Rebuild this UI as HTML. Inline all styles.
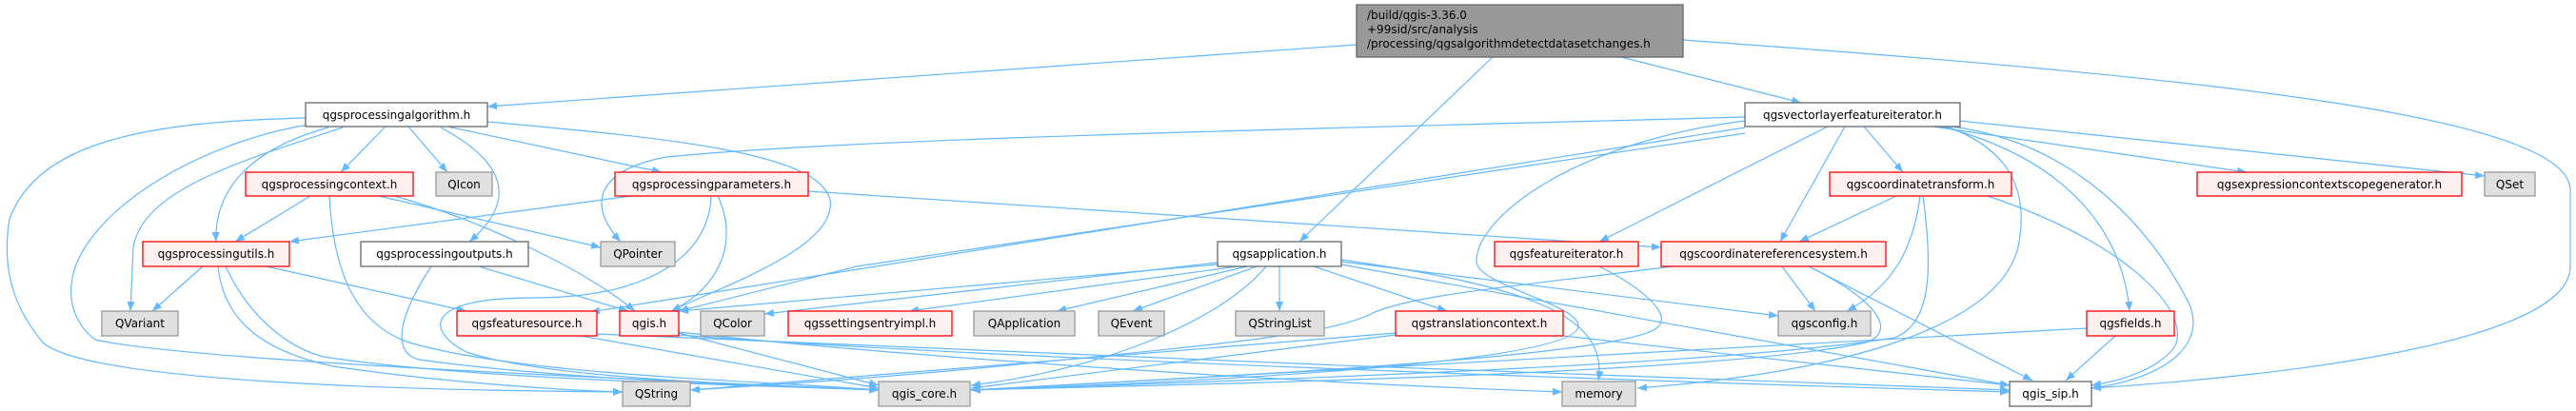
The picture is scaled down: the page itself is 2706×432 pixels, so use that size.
<!DOCTYPE html>
<html><head><meta charset="utf-8"><style>
html,body{margin:0;padding:0;background:#fff;}
svg{display:block;}
text{font-family:"DejaVu Sans","Liberation Sans",sans-serif;font-size:12px;fill:#000;}
.e{fill:none;stroke:#63b8ff;stroke-width:1.2;}
.w{fill:#fff;stroke:#666;stroke-width:1.3;}
.r{fill:#fff0f0;stroke:#ff0000;stroke-width:1.3;}
.g{fill:#e0e0e0;stroke:#999;stroke-width:1.3;}
</style></head><body>
<svg width="2706" height="432" viewBox="0 0 2706 432" xmlns="http://www.w3.org/2000/svg">
<defs><marker id="a" markerWidth="11" markerHeight="8" refX="10" refY="4" orient="auto" markerUnits="userSpaceOnUse"><path d="M0,0 L10,4 L0,8 z" fill="#63b8ff"/></marker></defs>
<g marker-end="url(#a)">
<!-- root -->
<path class="e" d="M1425,47 L512,112"/>
<path class="e" d="M1568,60 L1365,254"/>
<path class="e" d="M1703,60 L1892,108"/>
<path class="e" d="M1768,42 C2300,80 2700,120 2700,200 L2700,280 C2700,360 2400,395 2197,408"/>
<!-- processingalgorithm -->
<path class="e" d="M321,124 C150,128 40,150 10,230 C0,290 20,330 45,360 C90,400 400,410 654,412"/>
<path class="e" d="M330,130 C200,150 80,230 75,300 C72,330 90,350 100,357 C200,380 700,400 923,410"/>
<path class="e" d="M360,134 C250,170 150,200 140,260 L137,327"/>
<path class="e" d="M345,134 C250,160 225,210 227,254"/>
<path class="e" d="M405,133 L358,181"/>
<path class="e" d="M429,133 L470,181"/>
<path class="e" d="M463,134 C530,170 545,210 493,254"/>
<path class="e" d="M470,133 L695,181"/>
<path class="e" d="M512,128 C700,145 860,160 872,210 C880,260 760,300 705,327"/>
<!-- processingcontext -->
<path class="e" d="M326,206 L247,254"/>
<path class="e" d="M346,206 C350,280 370,340 430,360 C550,395 800,400 923,410"/>
<path class="e" d="M398,206 L631,260"/>
<path class="e" d="M414,206 C500,230 610,280 667,327"/>
<!-- processingparameters -->
<path class="e" d="M663,206 L304,254"/>
<path class="e" d="M754,206 C775,250 760,300 705,327"/>
<path class="e" d="M747,206 C745,270 680,313 560,313 C440,313 450,350 490,370 C580,400 820,405 923,410"/>
<path class="e" d="M849,201 L1745,260"/>
<!-- processingutils -->
<path class="e" d="M213,280 L160,327"/>
<path class="e" d="M280,280 L490,327"/>
<path class="e" d="M229,280 C235,340 280,370 350,385 C450,400 580,410 654,412"/>
<path class="e" d="M237,280 C260,330 300,365 340,375 C500,400 800,405 923,410"/>
<!-- processingoutputs -->
<path class="e" d="M503,280 L660,327"/>
<path class="e" d="M453,280 C420,330 410,370 440,378 C600,400 800,405 923,410"/>
<!-- vectorlayerfeatureiterator -->
<path class="e" d="M1833,123 C1400,135 900,145 700,165 C620,180 620,220 652,254"/>
<path class="e" d="M1833,134 L620,328"/>
<path class="e" d="M1833,140 L900,280 L713,327"/>
<path class="e" d="M1833,127 C1650,150 1550,230 1551,275 C1552,300 1660,320 1658,343 C1655,380 1300,400 1020,410"/>
<path class="e" d="M1920,133 L1680,254"/>
<path class="e" d="M1938,133 L1870,254"/>
<path class="e" d="M1958,133 L1999,181"/>
<path class="e" d="M2030,133 L2360,181"/>
<path class="e" d="M2059,127 L2610,185"/>
<path class="e" d="M2050,133 C2180,150 2260,240 2300,320 C2320,370 2260,400 2197,408"/>
<path class="e" d="M2040,133 C2180,170 2230,250 2237,327"/>
<path class="e" d="M2045,133 C2120,160 2130,210 2120,260 C2100,340 1950,390 1720,408"/>
<!-- coordinatetransform -->
<path class="e" d="M1992,206 L1890,254"/>
<path class="e" d="M2017,206 C2010,260 1990,300 1940,327"/>
<path class="e" d="M2088,206 C2250,260 2310,340 2280,370 C2260,390 2230,400 2197,405"/>
<path class="e" d="M2020,206 C2030,280 2030,340 1990,355 C1800,385 1300,400 1020,410"/>
<!-- crs -->
<path class="e" d="M1872,280 L1907,327"/>
<path class="e" d="M1900,280 L2135,400"/>
<path class="e" d="M1900,280 C1980,320 1990,350 1960,360 C1800,395 1200,405 1020,410"/>
<path class="e" d="M1757,280 C1600,300 1480,310 1440,330 C1400,350 1300,360 1100,380 C900,400 800,405 725,410"/>
<!-- application -->
<path class="e" d="M1279,276 L803,330"/>
<path class="e" d="M1279,278 L713,327"/>
<path class="e" d="M1300,280 L955,327"/>
<path class="e" d="M1310,280 L1110,327"/>
<path class="e" d="M1320,280 L1190,327"/>
<path class="e" d="M1344,280 L1344,327"/>
<path class="e" d="M1380,280 L1520,327"/>
<path class="e" d="M1409,275 L1868,332"/>
<path class="e" d="M1409,278 L2111,405"/>
<path class="e" d="M1409,273 C1600,300 1690,330 1679,400"/>
<path class="e" d="M1330,280 C1280,340 1150,390 1020,405"/>
<!-- translationcontext -->
<path class="e" d="M1466,352 L1020,408"/>
<path class="e" d="M1466,350 L725,410"/>
<path class="e" d="M1642,353 L2111,405"/>
<!-- fields -->
<path class="e" d="M2192,345 L1020,410"/>
<path class="e" d="M2222,353 L2170,400"/>
<!-- featuresource / qgis.h -->
<path class="e" d="M610,353 L923,408"/>
<path class="e" d="M627,351 C1000,370 1700,395 2111,410"/>
<path class="e" d="M713,350 L923,405"/>
<path class="e" d="M713,352 C1000,375 1700,400 2111,412"/>
<path class="e" d="M713,349 C900,370 1300,400 1641,412"/>
<!-- featureiterator -->
<path class="e" d="M1680,280 C1720,300 1760,330 1740,345 C1700,375 1300,395 1020,410"/>
</g>
<!-- nodes -->
<rect x="1425" y="5" width="343" height="55" fill="#999" stroke="#666" stroke-width="1.3"/>
<text x="1436" y="20">/build/qgis-3.36.0</text>
<text x="1436" y="35">+99sid/src/analysis</text>
<text x="1436" y="50">/processing/qgsalgorithmdetectdatasetchanges.h</text>

<rect class="w" x="321" y="108" width="191" height="25"/><text x="416.5" y="125" text-anchor="middle">qgsprocessingalgorithm.h</text>
<rect class="w" x="1833" y="108" width="226" height="25"/><text x="1946" y="125" text-anchor="middle">qgsvectorlayerfeatureiterator.h</text>

<rect class="r" x="258" y="181" width="176" height="25"/><text x="346" y="198" text-anchor="middle">qgsprocessingcontext.h</text>
<rect class="g" x="458" y="181" width="59" height="25"/><text x="487.5" y="198" text-anchor="middle">QIcon</text>
<rect class="r" x="646" y="181" width="203" height="25"/><text x="747.5" y="198" text-anchor="middle">qgsprocessingparameters.h</text>
<rect class="r" x="1922" y="181" width="191" height="25"/><text x="2017.5" y="198" text-anchor="middle">qgscoordinatetransform.h</text>
<rect class="r" x="2308" y="181" width="278" height="25"/><text x="2447" y="198" text-anchor="middle">qgsexpressioncontextscopegenerator.h</text>
<rect class="g" x="2610" y="181" width="53" height="25"/><text x="2636.5" y="198" text-anchor="middle">QSet</text>

<rect class="r" x="150" y="254" width="154" height="26"/><text x="227" y="271" text-anchor="middle">qgsprocessingutils.h</text>
<rect class="w" x="379" y="254" width="176" height="26"/><text x="467" y="271" text-anchor="middle">qgsprocessingoutputs.h</text>
<rect class="g" x="631" y="254" width="78" height="26"/><text x="670" y="271" text-anchor="middle">QPointer</text>
<rect class="w" x="1279" y="254" width="130" height="26"/><text x="1344" y="271" text-anchor="middle">qgsapplication.h</text>
<rect class="r" x="1570" y="254" width="151" height="26"/><text x="1645.5" y="271" text-anchor="middle">qgsfeatureiterator.h</text>
<rect class="r" x="1745" y="254" width="236" height="26"/><text x="1863" y="271" text-anchor="middle">qgscoordinatereferencesystem.h</text>

<rect class="g" x="107" y="327" width="80" height="26"/><text x="147" y="344" text-anchor="middle">QVariant</text>
<rect class="r" x="480" y="327" width="147" height="26"/><text x="553.5" y="344" text-anchor="middle">qgsfeaturesource.h</text>
<rect class="r" x="651" y="327" width="62" height="26"/><text x="682" y="344" text-anchor="middle">qgis.h</text>
<rect class="g" x="736" y="327" width="67" height="26"/><text x="769.5" y="344" text-anchor="middle">QColor</text>
<rect class="r" x="828" y="327" width="172" height="26"/><text x="914" y="344" text-anchor="middle">qgssettingsentryimpl.h</text>
<rect class="g" x="1023" y="327" width="106" height="26"/><text x="1076" y="344" text-anchor="middle">QApplication</text>
<rect class="g" x="1154" y="327" width="69" height="26"/><text x="1188.5" y="344" text-anchor="middle">QEvent</text>
<rect class="g" x="1298" y="327" width="93" height="26"/><text x="1344.5" y="344" text-anchor="middle">QStringList</text>
<rect class="r" x="1466" y="327" width="176" height="26"/><text x="1554" y="344" text-anchor="middle">qgstranslationcontext.h</text>
<rect class="g" x="1868" y="327" width="97" height="26"/><text x="1916.5" y="344" text-anchor="middle">qgsconfig.h</text>
<rect class="r" x="2192" y="327" width="92" height="26"/><text x="2238" y="344" text-anchor="middle">qgsfields.h</text>

<rect class="g" x="654" y="401" width="71" height="26"/><text x="689.5" y="418" text-anchor="middle">QString</text>
<rect class="g" x="923" y="401" width="96" height="26"/><text x="971" y="418" text-anchor="middle">qgis_core.h</text>
<rect class="g" x="1641" y="401" width="77" height="26"/><text x="1679.5" y="418" text-anchor="middle">memory</text>
<rect class="w" x="2111" y="401" width="86" height="26"/><text x="2154" y="418" text-anchor="middle">qgis_sip.h</text>
</svg>
</body></html>
